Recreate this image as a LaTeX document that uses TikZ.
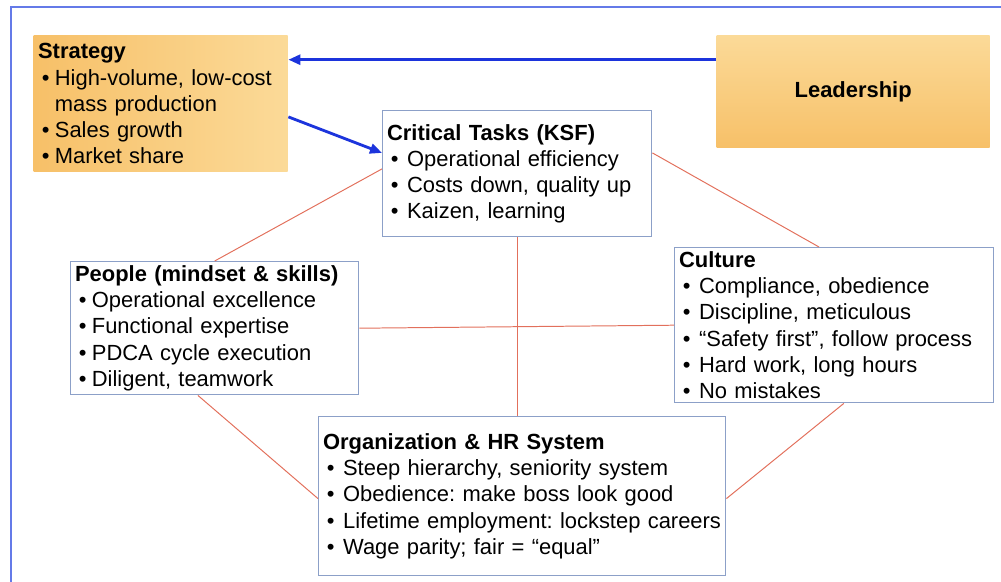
\documentclass[tikz,border=0pt]{standalone}
\usepackage{fontspec}
\setmainfont{Liberation Sans}
\usetikzlibrary{arrows.meta}
\definecolor{boxline}{RGB}{140,160,200}
\definecolor{linkred}{RGB}{226,112,92}
\definecolor{arrowblue}{RGB}{28,52,220}
\definecolor{frameblue}{RGB}{100,122,232}
\definecolor{orangeA}{RGB}{247,192,104}
\definecolor{orangeB}{RGB}{251,218,152}
\frenchspacing
\hyphenpenalty=10000
\newlength\bulind
\setlength\bulind{0.5cm}
\newcommand{\itm}{\par\hangindent=\bulind\hangafter=1\noindent\makebox[\bulind][l]{\,\textbullet}}
\tikzset{
    box/.style={
        draw=boxline,line width=1pt,fill=white,
        inner xsep=0.11cm,inner ysep=0pt,
        align=left,anchor=north west,
        font=\fontsize{15.6}{18.6}\selectfont
    },
    orange box/.style={box,draw=none},
    narrow/.style={execute at begin node=\setlength{\bulind}{0.42cm}},
    >={Triangle[length=0.3cm,width=0.25cm]},
}
\tikzstyle{link}  = [linkred,line width=0.7pt]
\tikzstyle{arrow} = [arrowblue,line width=2pt,->]

\begin{document}
\begin{tikzpicture}
	\useasboundingbox (0,0) rectangle (25.025,-14.55);
	\draw[frameblue,line width=1.5pt] (0.275,-14.6) |- (25.1,-0.175);

	\node[orange box,narrow,left color=orangeA,right color=orangeB,
		text width=6.13cm,minimum height=3.4cm] (strat) at (0.825,-0.875)
		{\textbf{Strategy}
		\itm High-volume, low-cost\newline mass production
		\itm Sales growth
		\itm Market share};
	\node[orange box,align=center,top color=orangeB,bottom color=orangeA,
		text width=6.605cm,minimum height=2.8cm] (lead) at (17.9,-0.875)
		{\textbf{Leadership}};
	\node[box,text width=6.505cm,minimum height=3.15cm] (crit) at (9.55,-2.75)
		{\textbf{Critical Tasks (KSF)}
		\itm Operational efficiency
		\itm Costs down, quality up
		\itm Kaizen, learning};
	\node[box,narrow,text width=6.98cm,minimum height=3.325cm] (ppl) at (1.75,-6.525)
		{\textbf{People (mindset \& skills)}
		\itm Operational excellence
		\itm Functional expertise
		\itm PDCA cycle execution
		\itm Diligent, teamwork};
	\node[box,text width=7.755cm,minimum height=3.875cm] (cult) at (16.85,-6.175)
		{\textbf{Culture}
		\itm Compliance, obedience
		\itm Discipline, meticulous
		\itm “Safety first”, follow process
		\itm Hard work, long hours
		\itm No mistakes};
	\node[box,text width=9.955cm,minimum height=3.975cm] (org) at (7.95,-10.4)
		{\textbf{Organization \& HR System}
		\itm Steep hierarchy, seniority system
		\itm Obedience: make boss look good
		\itm Lifetime employment: lockstep careers
		\itm Wage parity; fair = “equal”};

	\draw[link] ([yshift=0.12cm]crit.west) -- (ppl.north);
	\draw[link] ([yshift=0.52cm]crit.east) -- ([xshift=-0.38cm]cult.north);
	\draw[link] (crit.south) -- (crit.south |- org.north);
	\draw[link] (ppl.east) -- (cult.west);
	\draw[link] ([xshift=-0.42cm]ppl.south) -- ([yshift=-0.06cm]org.west);
	\draw[link] ([xshift=0.24cm]cult.south) -- ([yshift=-0.06cm]org.east);

	\draw[arrow] ([yshift=0.8cm]lead.west) -- ([yshift=0.8cm]lead.west -| strat.east);
	\draw[arrow] ([yshift=-0.33cm]strat.east) -- ([yshift=0.52cm]crit.west);
\end{tikzpicture}
\end{document}
